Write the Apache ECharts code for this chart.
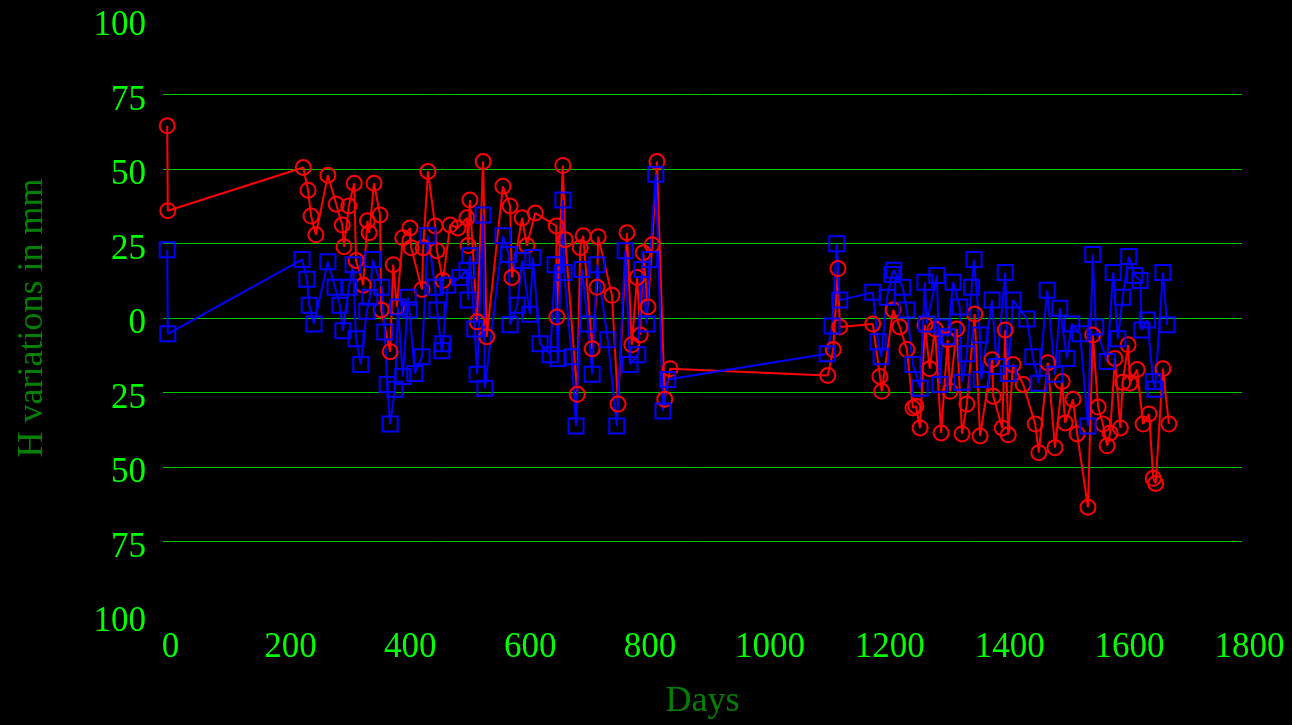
<!DOCTYPE html>
<html>
<head>
<meta charset="utf-8">
<script src="https://cdn.jsdelivr.net/npm/echarts@6/dist/echarts.min.js"></script>
<style>
html,body{margin:0;padding:0;background:#000;}
#chart{width:1292px;height:725px;}
</style>
</head>
<body>
<div id="chart"></div>
<script>
const xTicks = [0, 200, 400, 600, 800, 1000, 1200, 1400, 1600, 1800];
const yTicks = [-100, -75, -50, -25, 0, 25, 50, 75, 100];

const redDays = [7,8,234,242,247,255,275,289,299,302,310,319,322,334,341,344,352,362,364,379,384,390,400,412,414,432,434,442,454,457,467,479,492,507,509,512,524,534,540,567,579,582,599,607,621,656,657,667,671,691,696,701,716,724,726,749,759,774,782,791,796,801,809,816,824,837,846,1109,1118,1126,1129,1184,1196,1199,1218,1229,1241,1251,1256,1263,1271,1279,1288,1298,1309,1313,1324,1333,1341,1354,1363,1383,1385,1400,1405,1410,1418,1435,1455,1461,1476,1488,1500,1505,1518,1525,1543,1551,1560,1568,1575,1580,1588,1597,1601,1610,1613,1625,1635,1645,1652,1656,1668,1678];
const redVals = [64.5,36,50.5,42.9,34.2,27.9,47.9,38.2,31.2,23.9,37.6,45.2,19.3,11,32.6,28.6,45.2,34.6,2.7,-11.3,17.9,3.7,26.9,30.2,23.6,9.6,23.6,49.2,30.9,22.6,12.6,31.2,30.2,33.6,24.3,39.6,-1.3,52.5,-6.3,44.2,37.6,13.6,33.6,24.3,35.2,30.9,0.3,51.2,26.3,-25.6,23.6,27.6,-10.3,10.3,27.3,7.6,-28.9,28.6,-9,13.6,-5.7,21.9,3.7,24.6,52.5,-27.3,-17,-19.3,-10.6,16.6,-3,-2,-19.6,-24.6,2.7,-3,-10.6,-30.2,-29.6,-36.9,-2.3,-17,-3.7,-38.6,-7.3,-24.6,-3.7,-38.9,-28.9,1.3,-39.6,-14,-26.3,-36.9,-4,-39.2,-15.6,-22.3,-35.6,-45.2,-15,-43.5,-21.3,-35.2,-27.3,-38.9,-63.5,-5.7,-29.9,-35.6,-42.9,-38.6,-13.6,-36.9,-21.6,-9,-21.9,-17.3,-35.6,-32.2,-53.8,-55.5,-17,-35.6];

const blueDays = [7,8,232,240,244,252,275,287,295,300,310,317,322,330,340,345,350,365,370,374,379,387,392,400,409,411,420,432,442,454,457,465,467,475,495,507,509,512,520,524,534,537,567,577,579,591,599,612,617,629,646,654,659,667,669,682,689,699,709,716,724,742,757,771,779,792,799,807,812,822,834,842,1108,1116,1124,1129,1184,1193,1198,1208,1216,1219,1234,1241,1251,1263,1271,1274,1291,1296,1301,1309,1318,1329,1333,1341,1349,1353,1363,1365,1383,1391,1405,1410,1418,1441,1451,1461,1475,1488,1496,1508,1516,1530,1543,1551,1556,1575,1585,1593,1601,1611,1621,1630,1633,1642,1652,1655,1668,1675];
const blueVals = [22.9,-5.3,19.6,13,4.3,-2,18.9,10.3,4.3,-4.3,10.3,17.9,-7,-15.6,2.3,7,19.6,10.3,-4.7,-22.3,-35.6,-23.9,3.7,-19.6,7,2.7,-18.6,-13,27.6,10.3,2.7,-11,-8.6,11,13.6,16,6,20.9,-3.7,-18.9,34.6,-23.6,27.6,21.3,-2.3,4.3,19.3,1.3,20.3,-8.6,-12.3,17.9,-13.6,39.6,15.3,-13,-36.2,16.3,-2,-18.9,17.9,-7.3,-36.2,22.6,-15.6,-12.3,16.3,-2,19.6,48.2,-31.2,-20.6,-12,-2.7,24.9,6,8.6,-8,-13,7,14.6,16,10.3,2.7,-15.6,-23.6,12,-2,14.3,-22.3,-3,-6.3,12,3.7,-21.6,-12,10.3,19.6,-5.7,-20.6,6,-16.3,15.3,-18.6,6,-0.3,-13,-21.9,9.3,-18.9,3.3,-13.6,-2,-5.3,-36.2,21.3,-3,-14.6,15.3,-7,7,20.6,14.3,12.6,-4,-0.7,-21.3,-23.9,15.3,-2.3];

const redData = redDays.map((d, i) => [d, redVals[i]]);
const blueData = blueDays.map((d, i) => [d, blueVals[i]]);

const FONT = 'Liberation Serif, Times New Roman, serif';
const gridColor = '#00c800';
const noLine = 'rgba(0,0,0,0)';

const chart = echarts.init(document.getElementById('chart'), null, {renderer: 'canvas'});
chart.setOption({
  backgroundColor: '#000000',
  animation: false,
  grid: {left: 163, right: 50, top: 20, bottom: 103, containLabel: false},
  xAxis: {
    type: 'value',
    min: xTicks[0],
    max: xTicks[xTicks.length - 1],
    interval: 200,
    name: 'Days',
    nameLocation: 'middle',
    nameGap: 68,
    nameTextStyle: {color: '#008000', fontFamily: FONT, fontSize: 36},
    axisLine: {show: false},
    axisTick: {show: false},
    splitLine: {show: false},
    axisLabel: {
      color: '#00ff00', fontFamily: FONT, fontSize: 35, margin: 14,
      padding: [0, 0, 0, 15],
      formatter: v => String(v)
    }
  },
  yAxis: {
    type: 'value',
    min: yTicks[0],
    max: yTicks[yTicks.length - 1],
    interval: 25,
    name: 'H variations in mm',
    nameLocation: 'middle',
    nameGap: 112,
    nameRotate: 90,
    nameTextStyle: {color: '#008000', fontFamily: FONT, fontSize: 36},
    axisLine: {show: false},
    axisTick: {show: false},
    splitLine: {
      show: true,
      lineStyle: {
        width: 1,
        color: [noLine, gridColor, gridColor, gridColor, gridColor, gridColor, gridColor, gridColor, noLine]
      }
    },
    axisLabel: {
      color: '#00ff00', fontFamily: FONT, fontSize: 35, margin: 17,
      formatter: v => '{a|' + Math.abs(v) + '}',
      rich: {
        a: {color: '#00ff00', fontFamily: FONT, fontSize: 35, padding: [12, 0, 0, 0]}
      }
    }
  },
  series: [
    {
      type: 'line',
      data: redData,
      symbol: 'circle',
      symbolSize: 15,
      showAllSymbol: true,
      lineStyle: {color: '#ff0000', width: 2},
      itemStyle: {color: 'rgba(0,0,0,0)', borderColor: '#ff0000', borderWidth: 2}
    },
    {
      type: 'line',
      data: blueData,
      symbol: 'rect',
      symbolSize: 15,
      showAllSymbol: true,
      lineStyle: {color: '#0000ff', width: 2},
      itemStyle: {color: 'rgba(0,0,0,0)', borderColor: '#0000ff', borderWidth: 2}
    }
  ]
});
</script>
</body>
</html>
